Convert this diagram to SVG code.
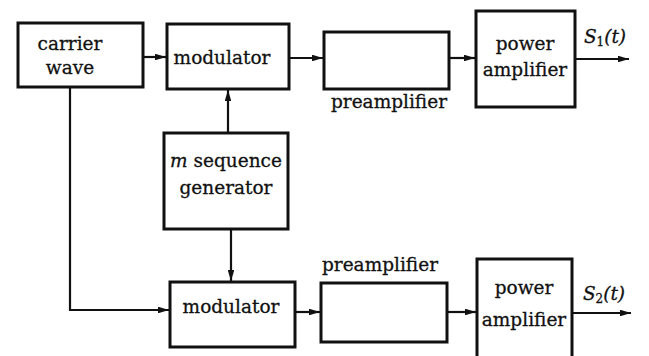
<svg xmlns="http://www.w3.org/2000/svg" width="649" height="356" viewBox="0 0 649 356">
<defs>
<style>
.box{fill:#fff;stroke:#111;stroke-width:3}
.ln{fill:none;stroke:#111;stroke-width:2.2}
text{font-family:"DejaVu Serif","Liberation Serif",serif;font-size:18.5px;fill:#111;text-anchor:middle;stroke:#111;stroke-width:0.3}
.it{font-style:italic}
</style>
<marker id="ah" viewBox="0 0 10 6" refX="10" refY="3" markerWidth="5" markerHeight="3" markerUnits="strokeWidth" orient="auto">
<path d="M0,0 L10,3 L0,6 z" fill="#111"/>
</marker>
</defs>
<rect width="649" height="356" fill="#fff"/>
<g id="connectors">
<path class="ln" d="M143,57 H166" marker-end="url(#ah)"/>
<path class="ln" d="M289,58 H323" marker-end="url(#ah)"/>
<path class="ln" d="M449,58 H475" marker-end="url(#ah)"/>
<path class="ln" d="M575,59 H629" marker-end="url(#ah)"/>
<path class="ln" d="M228,133 V90" marker-end="url(#ah)"/>
<path class="ln" d="M231,229 V281" marker-end="url(#ah)"/>
<path class="ln" d="M70,87 V310 H169" marker-end="url(#ah)"/>
<path class="ln" d="M295,312 H320" marker-end="url(#ah)"/>
<path class="ln" d="M447,312 H476" marker-end="url(#ah)"/>
<path class="ln" d="M572,313 H631" marker-end="url(#ah)"/>
</g>
<g id="carrier">
<rect class="box" x="18" y="23" width="125" height="64"/>
<text x="70" y="50">carrier</text>
<text x="70" y="74">wave</text>
</g>
<g id="mod1">
<rect class="box" x="167" y="24" width="122" height="65"/>
<text x="222" y="64">modulator</text>
</g>
<g id="pre1">
<rect class="box" x="324" y="32" width="125" height="57"/>
<text x="389" y="108">preamplifier</text>
</g>
<g id="pow1">
<rect class="box" x="476" y="11" width="99" height="96"/>
<text x="525" y="50">power</text>
<text x="525" y="76">amplifier</text>
</g>
<g id="out1"><text x="605" y="43" class="it">S<tspan font-size="12" font-style="normal" dy="3">1</tspan><tspan dy="-3">(t)</tspan></text></g>
<g id="mseq">
<rect class="box" x="164" y="133" width="124" height="96"/>
<text x="226" y="167"><tspan class="it">m</tspan> sequence</text>
<text x="226" y="194">generator</text>
</g>
<g id="mod2">
<rect class="box" x="170" y="282" width="125" height="65"/>
<text x="231" y="313">modulator</text>
</g>
<g id="pre2">
<rect class="box" x="321" y="283" width="126" height="59"/>
<text x="380" y="271">preamplifier</text>
</g>
<g id="pow2">
<rect class="box" x="477" y="259" width="95" height="100"/>
<text x="524" y="294">power</text>
<text x="524" y="326">amplifier</text>
</g>
<g id="out2"><text x="604" y="300" class="it">S<tspan font-size="12" font-style="normal" dy="3">2</tspan><tspan dy="-3">(t)</tspan></text></g>
</svg>
